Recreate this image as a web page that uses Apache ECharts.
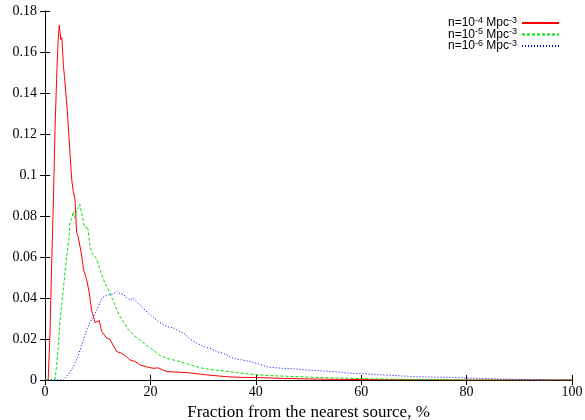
<!DOCTYPE html>
<html>
<head>
<meta charset="utf-8">
<script src="https://cdn.jsdelivr.net/npm/echarts@6/dist/echarts.min.js"></script>
<style>
  html, body { margin: 0; padding: 0; background: #fff; }
  #chart { width: 585px; height: 420px; }
</style>
</head>
<body>
<div id="chart"></div>
<script>
// values
var xTicks = [0, 20, 40, 60, 80, 100];

var redX = [0, 0.6, 0.95, 1.25, 1.6, 1.9, 2.2, 2.5, 2.7, 2.85, 3.0, 3.2, 3.5, 3.7, 4.24, 4.74, 5.06, 5.37, 5.7, 6.0, 6.3, 7.0, 7.3, 7.9, 8.4, 8.85, 9.5, 10.3, 10.75, 11.7, 12.3, 12.7, 13.6, 14.5, 15.5, 16.1, 17.1, 18.0, 19.3, 20.5, 21.5, 23.1, 26.9, 30.7, 34.5, 37, 40, 45, 50, 60, 70, 80, 100];
var redY = [0, 0, 0.023, 0.055, 0.088, 0.122, 0.147, 0.166, 0.173, 0.170, 0.166, 0.167, 0.153, 0.148, 0.131, 0.111, 0.098, 0.092, 0.088, 0.072, 0.070, 0.060, 0.054, 0.049, 0.0425, 0.034, 0.028, 0.029, 0.0237, 0.0205, 0.020, 0.018, 0.0139, 0.0131, 0.0113, 0.0098, 0.009, 0.0074, 0.0064, 0.0057, 0.0059, 0.0041, 0.0036, 0.0025, 0.0016, 0.0013, 0.0012, 0.0008, 0.0005, 0.0002, 0.0001, 0, 0];

var greenX = [0, 1.9, 2.4, 2.85, 3.5, 4.1, 4.5, 4.74, 5.1, 5.37, 5.6, 6.0, 6.3, 6.6, 6.9, 7.3, 7.6, 8.0, 8.2, 8.5, 8.85, 9.3, 9.8, 10.4, 11.1, 11.6, 12.3, 13.2, 14.2, 15.0, 15.8, 16.5, 17.2, 18.0, 19.2, 20.5, 21.8, 23.1, 24.3, 25.6, 27, 28.8, 30.3, 31.9, 34, 36.4, 38.9, 42, 45, 48.4, 52, 55, 57.9, 62, 66, 70, 75, 80, 90, 100];
var greenY = [0, 0, 0.012, 0.029, 0.045, 0.060, 0.068, 0.077, 0.079, 0.082, 0.079, 0.0825, 0.084, 0.0858, 0.082, 0.077, 0.074, 0.075, 0.073, 0.066, 0.062, 0.061, 0.059, 0.054, 0.049, 0.046, 0.0425, 0.037, 0.031, 0.028, 0.0245, 0.023, 0.021, 0.0196, 0.017, 0.0147, 0.012, 0.0106, 0.0098, 0.009, 0.0078, 0.0065, 0.0055, 0.0049, 0.0044, 0.0036, 0.0029, 0.0022, 0.0019, 0.0016, 0.0012, 0.001, 0.0008, 0.0006, 0.0004, 0.0003, 0.0002, 0.0001, 0, 0];

var blueX = [0, 3.5, 4.5, 5.4, 6.3, 7.3, 8.0, 8.5, 9.2, 9.8, 10.3, 10.8, 11.5, 12.3, 13.0, 13.6, 14.3, 14.9, 15.5, 16.1, 16.8, 17.4, 18.0, 19.0, 19.9, 20.8, 21.8, 23.1, 24.3, 25.3, 26.3, 27.5, 28.8, 29.4, 30.5, 31.3, 32.6, 33.8, 35.7, 37, 38.9, 40.5, 42.1, 43.5, 45.2, 46.8, 48.4, 50, 51.6, 54.7, 57.9, 61, 64.2, 67.5, 70.5, 74, 76.9, 80, 85, 90, 95, 100];
var blueY = [0, 0, 0.003, 0.0065, 0.012, 0.0196, 0.025, 0.028, 0.031, 0.034, 0.037, 0.040, 0.041, 0.0417, 0.042, 0.0433, 0.042, 0.0417, 0.040, 0.039, 0.040, 0.038, 0.0368, 0.034, 0.0319, 0.030, 0.028, 0.026, 0.0255, 0.024, 0.0229, 0.020, 0.018, 0.0172, 0.016, 0.0155, 0.0139, 0.013, 0.0106, 0.010, 0.009, 0.0078, 0.0065, 0.006, 0.0057, 0.0055, 0.0052, 0.0048, 0.0046, 0.0041, 0.0033, 0.003, 0.0025, 0.002, 0.0016, 0.0014, 0.0013, 0.001, 0.0006, 0.0003, 0.0001, 0];

// 图例文字 (n=10^exp Mpc^-3)
var densityExp = ['-4', '-5', '-6'];
var seriesNames = ['n=10^-4 Mpc^-3', 'n=10^-5 Mpc^-3', 'n=10^-6 Mpc^-3'];

var zip = function(xs, ys) {
	var out = [];
	for (var i = 0; i < xs.length; i++) {
		out.push([xs[i], ys[i]]);
	}
	return out;
};

var chart = echarts.init(document.getElementById('chart'), null, { renderer: 'canvas' });

var serifFont = '"Liberation Serif", "DejaVu Serif", serif';
var sansFont = '"Liberation Sans", Arial, sans-serif';

var mkLine = function(name, data, color, type) {
	return {
		name: name,
		type: 'line',
		data: data,
		symbol: 'none',
		animation: false,
		lineStyle: { color: color, width: 1, type: type },
		itemStyle: { color: color }
	};
};

// 刻度线朝内，四边都有
var tickIn = { show: true, inside: true, length: 5, lineStyle: { color: '#000' } };
var blackLine = { show: true, lineStyle: { color: '#000', width: 1 } };

var option = {
	animation: false,
	grid: { left: 45, right: 13, top: 11, bottom: 40, outerBoundsMode: 'none', containLabel: false },
	legend: {
		orient: 'vertical',
		right: 25,
		top: 16,
		padding: 0,
		align: 'right',
		itemWidth: 37,
		itemHeight: 8,
		itemGap: -2.5,
		data: seriesNames,
		itemStyle: { opacity: 0 },
		formatter: function(n) {
			var i = seriesNames.indexOf(n);
			return '{m|n=10}{s|' + densityExp[i] + '}{m| Mpc}{s|-3}';
		},
		textStyle: {
			fontFamily: sansFont,
			fontSize: 12,
			color: '#000',
			lineHeight: 11,
			rich: {
				m: { fontSize: 12, fontFamily: sansFont, color: '#000', lineHeight: 11 },
				s: { fontSize: 9, fontFamily: sansFont, color: '#000', lineHeight: 6, padding: [0, 0, 5, 0] }
			}
		}
	},
	xAxis: [{
		type: 'value',
		min: 0,
		max: 100,
		interval: 20,
		name: 'Fraction from the nearest source, %',
		nameLocation: 'middle',
		nameGap: 19,
		nameTextStyle: { fontFamily: serifFont, fontSize: 17, color: '#000' },
		axisLine: blackLine,
		axisTick: tickIn,
		axisLabel: { fontFamily: serifFont, fontSize: 14, color: '#000', margin: 5 },
		splitLine: { show: false }
	}, {
		type: 'value',
		position: 'top',
		min: 0,
		max: 100,
		interval: 20,
		axisLine: blackLine,
		axisTick: tickIn,
		axisLabel: { show: false },
		splitLine: { show: false }
	}],
	yAxis: [{
		type: 'value',
		min: 0,
		max: 0.18,
		interval: 0.02,
		axisLine: blackLine,
		axisTick: tickIn,
		axisLabel: { fontFamily: serifFont, fontSize: 14, color: '#000', margin: 8 },
		splitLine: { show: false }
	}, {
		type: 'value',
		position: 'right',
		min: 0,
		max: 0.18,
		interval: 0.02,
		axisLine: blackLine,
		axisTick: tickIn,
		axisLabel: { show: false },
		splitLine: { show: false }
	}],
	series: [
		mkLine(seriesNames[0], zip(redX, redY), '#ff0000', 'solid'),
		mkLine(seriesNames[1], zip(greenX, greenY), '#00e000', [3, 2]),
		mkLine(seriesNames[2], zip(blueX, blueY), '#0000ff', [1, 2])
	]
};

chart.setOption(option);
</script>
</body>
</html>
